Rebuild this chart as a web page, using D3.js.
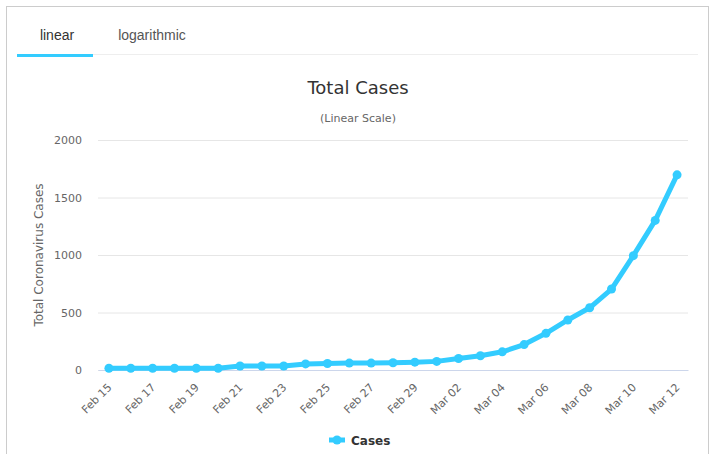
<!DOCTYPE html>
<html lang="en">
<head>
    <meta charset="UTF-8">
    <title>Total Cases</title>
    <script src="https://d3js.org/d3.v7.min.js"></script>
    <style>
        body { margin: 0; background: #fff; }
        svg { display: block; }
    </style>
</head>
<body>
    <div id="chart"></div>

    <script>
        // Données
        const dates = ["Feb 15", "Feb 16", "Feb 17", "Feb 18", "Feb 19", "Feb 20", "Feb 21",
                       "Feb 22", "Feb 23", "Feb 24", "Feb 25", "Feb 26", "Feb 27", "Feb 28",
                       "Feb 29", "Mar 01", "Mar 02", "Mar 03", "Mar 04", "Mar 05", "Mar 06",
                       "Mar 07", "Mar 08", "Mar 09", "Mar 10", "Mar 11", "Mar 12"];
        const cases = [15, 15, 15, 15, 15, 15, 35, 35, 35, 53, 57, 60, 60, 63,
                       68, 75, 100, 124, 158, 221, 319, 435, 541, 704, 994, 1301, 1697];
        const yTicks = [0, 500, 1000, 1500, 2000];
        const tabs = ["linear", "logarithmic"];

        const W = 715, H = 454;
        const blue = "#33ccff";
        const font = "'DejaVu Sans', sans-serif";
        const margin = {top: 140, right: 27, bottom: 84, left: 98};
        const width = W - margin.left - margin.right,
              height = H - margin.top - margin.bottom;

        const root = d3.select("#chart").append("svg")
            .attr("width", W).attr("height", H);

        // cadre
        root.append("rect")
            .attr("x", 6.5).attr("y", 6.5)
            .attr("width", 702).attr("height", 460)
            .attr("fill", "none").attr("stroke", "#ccc");

        // onglets
        root.append("line")
            .attr("x1", 17).attr("x2", 698).attr("y1", 54.5).attr("y2", 54.5)
            .attr("stroke", "#eee");
        root.append("rect")
            .attr("x", 17).attr("y", 54).attr("width", 76).attr("height", 3)
            .attr("fill", blue);
        root.selectAll(".tab").data(tabs).enter().append("text")
            .attr("class", "tab")
            .attr("x", (d, i) => i === 0 ? 57 : 152)
            .attr("y", 40)
            .attr("text-anchor", "middle")
            .style("font", "14px 'Liberation Sans', Arial, sans-serif")
            .attr("fill", (d, i) => i === 0 ? "#333" : "#555")
            .text(d => d);

        // titres
        root.append("text")
            .attr("x", 358).attr("y", 94)
            .attr("text-anchor", "middle")
            .style("font", "18px " + font).attr("fill", "#333")
            .text("Total Cases");
        root.append("text")
            .attr("x", 358).attr("y", 122)
            .attr("text-anchor", "middle")
            .style("font", "11px " + font).attr("fill", "#666")
            .text("(Linear Scale)");

        const svg = root.append("g")
            .attr("transform", `translate(${margin.left},${margin.top})`);

        // Échelles
        const x = d3.scalePoint().domain(dates).range([0, width]).padding(0.5);
        const y = d3.scaleLinear().domain([0, 2000]).range([height, 0]);

        // grille + axe Y
        const yAxis = svg.append("g")
            .call(d3.axisLeft(y).tickValues(yTicks).tickFormat(d3.format("d"))
                .tickSize(-width).tickPadding(16));
        yAxis.select(".domain").remove();
        yAxis.selectAll(".tick line").attr("stroke", "#e6e6e6");
        yAxis.selectAll(".tick text")
            .style("font", "11px " + font).attr("fill", "#666");

        // axe X
        const xAxis = svg.append("g")
            .attr("transform", `translate(0,${height})`)
            .call(d3.axisBottom(x)
                .tickValues(dates.filter((d, i) => i % 2 === 0))
                .tickSize(0).tickPadding(0));
        xAxis.select(".domain").attr("stroke", "#ccd6eb");
        xAxis.selectAll(".tick text")
            .style("font", "11px " + font).attr("fill", "#666")
            .attr("text-anchor", "end")
            .attr("dy", null)
            .attr("transform", "translate(3,18) rotate(-45)");

        svg.append("text")
            .attr("transform", `translate(${39 - margin.left},${height / 2}) rotate(-90)`)
            .attr("text-anchor", "middle")
            .attr("dy", "0.35em")
            .style("font", "12px " + font).attr("fill", "#666")
            .text("Total Coronavirus Cases");

        // courbe
        svg.append("path")
            .datum(cases)
            .attr("fill", "none").attr("stroke", blue)
            .attr("stroke-width", 5).attr("stroke-linejoin", "round")
            .attr("d", d3.line().x((d, i) => x(dates[i])).y(d => y(d)));
        svg.selectAll(".dot").data(cases).enter().append("circle")
            .attr("class", "dot")
            .attr("cx", (d, i) => x(dates[i])).attr("cy", d => y(d))
            .attr("r", 4.5).attr("fill", blue);

        // légende
        const lg = root.append("g").attr("transform", "translate(329,440)");
        lg.append("line").attr("x1", 0).attr("x2", 16)
            .attr("stroke", blue).attr("stroke-width", 5);
        lg.append("circle").attr("cx", 8).attr("r", 4.5).attr("fill", blue);
        lg.append("text").attr("x", 22).attr("y", 4.5)
            .style("font", "bold 12px " + font).attr("fill", "#333")
            .text("Cases");
    </script>
</body>
</html>
